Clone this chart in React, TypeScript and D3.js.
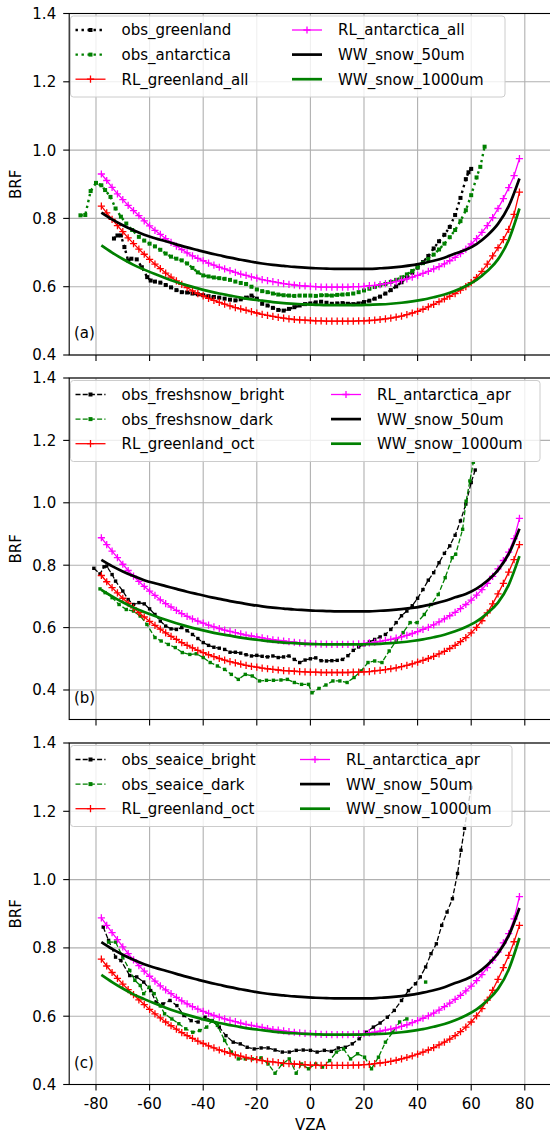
import React from 'react';
import * as d3 from 'd3';

const W = 550;
const H = 1134;
const FONT = '"DejaVu Sans", "Noto Sans", sans-serif';

// ---------------- data ----------------
const X_TICKS = [-80, -60, -40, -20, 0, 20, 40, 60, 80];
const Y_TICKS = [0.4, 0.6, 0.8, 1.0, 1.2, 1.4];
const PANEL_LABELS = ['(a)', '(b)', '(c)'];

const RL_VZA = [
  -78, -76, -74, -72, -70, -68, -66, -64, -62, -60, -58, -56, -54, -52, -50, -48, -46, -44, -42, -40,
  -38, -36, -34, -32, -30, -28, -26, -24, -22, -20, -18, -16, -14, -12, -10, -8, -6, -4, -2, 0,
  2, 4, 6, 8, 10, 12, 14, 16, 18, 20, 22, 24, 26, 28, 30, 32, 34, 36, 38, 40,
  42, 44, 46, 48, 50, 52, 54, 56, 58, 60, 62, 64, 66, 68, 70, 72, 74, 76, 78,
];
const RL_GREENLAND_ALL = [
  0.836, 0.816, 0.797, 0.779, 0.761, 0.743, 0.726, 0.710, 0.695, 0.680, 0.666, 0.653, 0.640, 0.628, 0.617, 0.607, 0.597, 0.588, 0.580, 0.573,
  0.566, 0.560, 0.554, 0.549, 0.544, 0.539, 0.535, 0.531, 0.527, 0.523, 0.519, 0.516, 0.513, 0.510, 0.508, 0.506, 0.504, 0.503, 0.502, 0.501,
  0.500, 0.500, 0.499, 0.499, 0.499, 0.499, 0.499, 0.499, 0.500, 0.500, 0.501, 0.502, 0.504, 0.506, 0.508, 0.511, 0.514, 0.518, 0.523, 0.528,
  0.534, 0.541, 0.548, 0.556, 0.564, 0.572, 0.580, 0.590, 0.600, 0.612, 0.627, 0.645, 0.666, 0.690, 0.714, 0.738, 0.768, 0.812, 0.877,
];
const RL_ANTARCTICA_ALL = [
  0.930, 0.911, 0.891, 0.872, 0.855, 0.838, 0.823, 0.808, 0.793, 0.778, 0.765, 0.753, 0.741, 0.730, 0.719, 0.709, 0.699, 0.690, 0.683, 0.676,
  0.669, 0.663, 0.657, 0.652, 0.647, 0.642, 0.637, 0.633, 0.629, 0.625, 0.621, 0.618, 0.615, 0.612, 0.609, 0.607, 0.605, 0.603, 0.602, 0.601,
  0.600, 0.599, 0.599, 0.599, 0.599, 0.599, 0.599, 0.600, 0.600, 0.601, 0.603, 0.604, 0.606, 0.609, 0.612, 0.615, 0.619, 0.623, 0.628, 0.633,
  0.639, 0.645, 0.652, 0.659, 0.667, 0.676, 0.686, 0.697, 0.710, 0.725, 0.741, 0.759, 0.779, 0.802, 0.829, 0.858, 0.890, 0.925, 0.975,
];
const RL_GREENLAND_OCT = [
  0.767, 0.747, 0.728, 0.711, 0.694, 0.678, 0.663, 0.648, 0.634, 0.620, 0.607, 0.595, 0.583, 0.572, 0.562, 0.552, 0.543, 0.535, 0.527, 0.520,
  0.513, 0.507, 0.501, 0.496, 0.491, 0.487, 0.483, 0.479, 0.476, 0.473, 0.470, 0.468, 0.466, 0.464, 0.462, 0.461, 0.460, 0.459, 0.458, 0.457,
  0.457, 0.456, 0.456, 0.456, 0.456, 0.456, 0.456, 0.457, 0.457, 0.458, 0.459, 0.461, 0.463, 0.465, 0.468, 0.471, 0.475, 0.479, 0.484, 0.489,
  0.495, 0.501, 0.508, 0.516, 0.524, 0.533, 0.543, 0.555, 0.568, 0.583, 0.601, 0.622, 0.647, 0.676, 0.708, 0.742, 0.778, 0.818, 0.866,
];
const RL_ANTARCTICA_APR = [
  0.888, 0.866, 0.845, 0.824, 0.803, 0.783, 0.765, 0.748, 0.732, 0.717, 0.703, 0.689, 0.677, 0.666, 0.655, 0.645, 0.636, 0.628, 0.621, 0.614,
  0.608, 0.602, 0.597, 0.592, 0.588, 0.584, 0.580, 0.576, 0.573, 0.570, 0.567, 0.564, 0.561, 0.559, 0.557, 0.555, 0.553, 0.551, 0.550, 0.549,
  0.548, 0.547, 0.547, 0.546, 0.546, 0.546, 0.546, 0.547, 0.548, 0.549, 0.551, 0.553, 0.556, 0.559, 0.562, 0.566, 0.570, 0.575, 0.581, 0.587,
  0.594, 0.601, 0.609, 0.618, 0.628, 0.638, 0.649, 0.661, 0.674, 0.688, 0.704, 0.722, 0.742, 0.764, 0.788, 0.815, 0.842, 0.885, 0.950,
];

const WW_VZA = [
  -78, -74, -70, -66, -62, -58, -54, -50, -46, -42, -38, -34, -30, -26, -22, -18, -14, -10, -6, -2,
  2, 6, 10, 14, 18, 22, 26, 30, 34, 38, 42, 46, 50, 54, 58, 62, 66, 70, 74, 78,
];
const WW_SNOW_50UM = [
  0.817, 0.797, 0.780, 0.765, 0.752, 0.742, 0.733, 0.724, 0.715, 0.707, 0.699, 0.692, 0.685, 0.679, 0.673, 0.668, 0.664, 0.661, 0.658, 0.656,
  0.654, 0.653, 0.652, 0.652, 0.652, 0.652, 0.654, 0.656, 0.659, 0.663, 0.669, 0.676, 0.685, 0.697, 0.708, 0.725, 0.750, 0.784, 0.836, 0.917,
];
const WW_SNOW_1000UM = [
  0.721, 0.700, 0.681, 0.664, 0.650, 0.637, 0.625, 0.614, 0.604, 0.595, 0.587, 0.580, 0.574, 0.568, 0.563, 0.559, 0.555, 0.552, 0.550, 0.548,
  0.547, 0.546, 0.546, 0.546, 0.546, 0.547, 0.548, 0.550, 0.553, 0.557, 0.562, 0.569, 0.577, 0.588, 0.602, 0.620, 0.646, 0.680, 0.737, 0.829,
];

type Pt = [number, number] | null;

const OBS_GREENLAND: Pt[] = [
  [-73.3, 0.741], [-72, 0.75], [-70.7, 0.75], [-69.4, 0.716], [-68, 0.677], [-66.8, 0.682], [-64.8, 0.68], [-62.9, 0.657],
  [-60.9, 0.628], [-59.6, 0.618], [-58, 0.615], [-56, 0.612], [-54, 0.605], [-52, 0.598], [-50, 0.59], [-48, 0.584],
  [-46, 0.583], [-44, 0.58], [-42, 0.578], [-40, 0.575], [-38, 0.572], [-36, 0.57], [-34, 0.568], [-32, 0.565],
  [-30, 0.562], [-28, 0.56], [-26, 0.563], [-24, 0.568], [-22, 0.574], [-20, 0.565], [-18, 0.55], [-16, 0.545],
  [-14, 0.538], [-12, 0.532], [-10, 0.53], [-8, 0.535], [-6, 0.54], [-4, 0.545], [-2, 0.549], [0, 0.551],
  [2, 0.554], [4, 0.556], [6, 0.553], [8, 0.55], [10, 0.551], [12, 0.552], [14, 0.55], [16, 0.549],
  [18, 0.551], [20, 0.555], [22, 0.559], [24, 0.565], [26, 0.571], [28, 0.58], [30, 0.59], [32, 0.601],
  [34, 0.613], [36, 0.627], [38, 0.641], [40, 0.656], [42, 0.672], [44, 0.69], [46, 0.712], [48, 0.733],
  [50, 0.752], [52, 0.775], [54, 0.81], [56, 0.86], [58, 0.915], [59, 0.935], [60, 0.945],
];
const OBS_ANTARCTICA: Pt[] = [
  [-85.8, 0.809], [-84, 0.81], [-82, 0.88], [-80, 0.904], [-78, 0.897], [-76.6, 0.883], [-74.6, 0.863], [-72.7, 0.829],
  [-70.7, 0.805], [-68.7, 0.785], [-66.5, 0.766], [-64, 0.746], [-62, 0.735], [-60, 0.726], [-58, 0.718], [-56, 0.708],
  [-54, 0.697], [-52, 0.688], [-50, 0.682], [-48, 0.677], [-46, 0.668], [-44, 0.655], [-42, 0.642], [-40, 0.633],
  [-38, 0.63], [-36, 0.627], [-34, 0.625], [-32, 0.623], [-30, 0.62], [-28, 0.615], [-26, 0.611], [-24, 0.608],
  [-22, 0.6], [-20, 0.592], [-18, 0.587], [-16, 0.584], [-14, 0.58], [-12, 0.577], [-10, 0.575], [-8, 0.574],
  [-6, 0.573], [-4, 0.574], [-2, 0.574], [0, 0.574], [2, 0.573], [4, 0.575], [6, 0.575], [8, 0.574],
  [10, 0.576], [12, 0.577], [14, 0.578], [16, 0.58], [18, 0.584], [20, 0.589], [22, 0.594], [24, 0.599],
  [26, 0.604], [28, 0.608], [30, 0.614], [32, 0.62], [34, 0.627], [36, 0.636], [38, 0.646], [40, 0.657],
  [42, 0.669], [44, 0.681], [46, 0.694], [48, 0.709], [50, 0.726], [52, 0.745], [54, 0.766], [56, 0.792],
  [58, 0.824], [60, 0.868], [62, 0.92], [63.4, 0.951], [65, 1.01],
];
const OBS_FRESHSNOW_BRIGHT: Pt[] = [
  [-80.8, 0.79], [-78.5, 0.772], [-77, 0.795], [-76, 0.797], [-74, 0.77], [-72.7, 0.749], [-70, 0.717], [-68, 0.69],
  [-66, 0.674], [-64, 0.68], [-62, 0.676], [-60, 0.66], [-58, 0.642], [-56, 0.621], [-54, 0.605], [-52, 0.596],
  [-50, 0.594], [-48, 0.6], [-46, 0.59], [-44, 0.578], [-42, 0.565], [-40, 0.552], [-38, 0.543], [-36, 0.537],
  [-34, 0.534], [-32, 0.53], [-30, 0.521], [-28, 0.521], [-26, 0.518], [-24, 0.513], [-22, 0.509], [-20, 0.511],
  [-18, 0.508], [-16, 0.506], [-14, 0.509], [-12, 0.504], [-10, 0.506], [-8, 0.509], [-6, 0.498], [-4, 0.488],
  [-2, 0.496], [0, 0.5], [2, 0.503], [4, 0.494], [6, 0.493], [8, 0.494], [10, 0.495], [12, 0.498],
  [14, 0.51], [16, 0.527], [18, 0.538], [20, 0.545], [22, 0.554], [24, 0.562], [26, 0.57], [28, 0.578],
  [30, 0.594], [32, 0.616], [34, 0.638], [36, 0.653], [38, 0.67], [40, 0.694], [42, 0.722], [44, 0.752],
  [46, 0.776], [48, 0.808], [50, 0.838], [52, 0.862], [54, 0.896], [56, 0.942], [58, 0.996], [60, 1.065], [61.5, 1.105],
];
const OBS_FRESHSNOW_DARK: Pt[] = [
  [-78.5, 0.724], [-76.6, 0.712], [-74, 0.696], [-71.4, 0.674], [-68.7, 0.658], [-66, 0.653], [-63.5, 0.637], [-61, 0.61],
  [-58, 0.568], [-55.7, 0.557], [-53, 0.546], [-50.4, 0.536], [-47.8, 0.52], [-45, 0.514], [-42.6, 0.516], [-40, 0.504],
  [-37.4, 0.488], [-34.7, 0.477], [-32, 0.466], [-29.5, 0.45], [-26.9, 0.434], [-24.3, 0.45], [-21.7, 0.445], [-19, 0.429],
  [-16.4, 0.431], [-13.8, 0.431], [-11, 0.432], [-8.6, 0.434], [-6, 0.424], [-3.3, 0.418], [-0.7, 0.418], [0.6, 0.391],
  [3.2, 0.405], [5.8, 0.416], [8.4, 0.429], [11, 0.429], [13.7, 0.424], [16.3, 0.44], [18.9, 0.461], [21.5, 0.488],
  [24, 0.493], [26.7, 0.488], [29.4, 0.525], [32, 0.557], [34.6, 0.584], [37.2, 0.616], [39.8, 0.616], [42.5, 0.642],
  [45, 0.674], [47.7, 0.706], [50.3, 0.76], [52.9, 0.824], [54.2, 0.835], [56.8, 0.915], [58.1, 1.005], [59.5, 1.07], [60.8, 1.13],
];
const OBS_SEAICE_BRIGHT: Pt[] = [
  [-77.3, 0.861], [-75.3, 0.822], [-72.7, 0.773], [-70.7, 0.763], [-67.4, 0.719], [-64.8, 0.715], [-62.2, 0.7], [-59.6, 0.675],
  [-57.6, 0.641], [-55, 0.636], [-52.4, 0.646], [-49.8, 0.631], [-47.2, 0.602], [-44.5, 0.587], [-41.9, 0.583], [-39.3, 0.597],
  [-36.7, 0.587], [-34, 0.568], [-31.5, 0.543], [-28.8, 0.524], [-26.2, 0.519], [-23.6, 0.509], [-21, 0.504], [-18.4, 0.507],
  [-15.8, 0.507], [-13.2, 0.501], [-10.5, 0.495], [-7.9, 0.495], [-5.3, 0.5], [-2.7, 0.501], [0, 0.5], [2.5, 0.495],
  [5.2, 0.5], [7.8, 0.497], [10.4, 0.507], [13, 0.509], [15.6, 0.519], [18.2, 0.534], [20.9, 0.553], [23.5, 0.568],
  [26, 0.58], [28.7, 0.597], [31.3, 0.617], [34, 0.646], [36.6, 0.675], [39.2, 0.695], [41, 0.715], [43, 0.744],
  [45, 0.783], [47, 0.812], [49, 0.866], [51, 0.905], [53, 0.944], [54.9, 1.018], [56.2, 1.086], [57.5, 1.15], [58.7, 1.21], [60, 1.27],
];
const OBS_SEAICE_DARK: Pt[] = [
  [-75.3, 0.817], [-72.7, 0.817], [-70, 0.773], [-67.4, 0.734], [-65.5, 0.705], [-63.5, 0.69], [-62.2, 0.666], [-60.2, 0.685],
  [-58.3, 0.666], [-56, 0.63], [-54.4, 0.607], [-51.7, 0.592], [-49.1, 0.578], [-46.5, 0.563], [-43.9, 0.553], [-41.3, 0.558],
  [-38.7, 0.568], [-36.7, 0.587], [-34.7, 0.573], [-32, 0.529], [-29.5, 0.495], [-26.9, 0.475], [-24.3, 0.475], [-21.7, 0.475],
  [-18.4, 0.478], [-15.8, 0.46], [-13.2, 0.433], [-10.5, 0.46], [-7.9, 0.475], [-5.3, 0.433], [-3.3, 0.46], [-0.7, 0.446],
  [2, 0.46], [4.5, 0.451], [7.2, 0.47], [9.7, 0.495], [12.4, 0.504], [15, 0.475], [17.6, 0.49], [20.2, 0.48],
  [22.8, 0.446], [25.4, 0.48], [28, 0.524], [30.7, 0.553], [33.3, 0.583], [36, 0.592], null, [43, 0.7],
];

// ---------------- styles / layout ----------------
type Kind = 'obsDot' | 'obsDash' | 'rl' | 'ww';
interface Series { name: string; kind: Kind; color: string; pts: Pt[] }

const zip = (xs: number[], ys: number[]): Pt[] => xs.map((x, i) => [x, ys[i]] as [number, number]);

const BLACK = '#000000';
const GREEN = '#008000';
const RED = '#ff0000';
const MAGENTA = '#ff00ff';

const PANELS = [
  {
    top: 13.5, yDomain: [0.4, 1.4], legendW: 434.5, col2: 292,
    series: [
      { name: 'obs_greenland', kind: 'obsDot', color: BLACK, pts: OBS_GREENLAND },
      { name: 'obs_antarctica', kind: 'obsDot', color: GREEN, pts: OBS_ANTARCTICA },
      { name: 'RL_greenland_all', kind: 'rl', color: RED, pts: zip(RL_VZA, RL_GREENLAND_ALL) },
      { name: 'RL_antarctica_all', kind: 'rl', color: MAGENTA, pts: zip(RL_VZA, RL_ANTARCTICA_ALL) },
      { name: 'WW_snow_50um', kind: 'ww', color: BLACK, pts: zip(WW_VZA, WW_SNOW_50UM) },
      { name: 'WW_snow_1000um', kind: 'ww', color: GREEN, pts: zip(WW_VZA, WW_SNOW_1000UM) },
    ] as Series[],
  },
  {
    top: 378, yDomain: [0.3054, 1.4], legendW: 469.5, col2: 331,
    series: [
      { name: 'obs_freshsnow_bright', kind: 'obsDash', color: BLACK, pts: OBS_FRESHSNOW_BRIGHT },
      { name: 'obs_freshsnow_dark', kind: 'obsDash', color: GREEN, pts: OBS_FRESHSNOW_DARK },
      { name: 'RL_greenland_oct', kind: 'rl', color: RED, pts: zip(RL_VZA, RL_GREENLAND_OCT) },
      { name: 'RL_antarctica_apr', kind: 'rl', color: MAGENTA, pts: zip(RL_VZA, RL_ANTARCTICA_APR) },
      { name: 'WW_snow_50um', kind: 'ww', color: BLACK, pts: zip(WW_VZA, WW_SNOW_50UM) },
      { name: 'WW_snow_1000um', kind: 'ww', color: GREEN, pts: zip(WW_VZA, WW_SNOW_1000UM) },
    ] as Series[],
  },
  {
    top: 743, yDomain: [0.4, 1.4], legendW: 441.5, col2: 300,
    series: [
      { name: 'obs_seaice_bright', kind: 'obsDash', color: BLACK, pts: OBS_SEAICE_BRIGHT },
      { name: 'obs_seaice_dark', kind: 'obsDash', color: GREEN, pts: OBS_SEAICE_DARK },
      { name: 'RL_greenland_oct', kind: 'rl', color: RED, pts: zip(RL_VZA, RL_GREENLAND_OCT) },
      { name: 'RL_antarctica_apr', kind: 'rl', color: MAGENTA, pts: zip(RL_VZA, RL_ANTARCTICA_APR) },
      { name: 'WW_snow_50um', kind: 'ww', color: BLACK, pts: zip(WW_VZA, WW_SNOW_50UM) },
      { name: 'WW_snow_1000um', kind: 'ww', color: GREEN, pts: zip(WW_VZA, WW_SNOW_1000UM) },
    ] as Series[],
  },
];

const PANEL_H = 341.5;
const AX_LEFT = 69.2;
const AX_RIGHT = 551.6;
const FS = 15;

const x = d3.scaleLinear().domain([-90, 90]).range([AX_LEFT, AX_RIGHT]);

const plusPath = (px: number, py: number, r: number) => `M${px - r},${py}H${px + r}M${px},${py - r}V${py + r}`;

function Marks({ s, y }: { s: Series; y: d3.ScaleLinear<number, number> }) {
  const line = d3
    .line<Pt>()
    .defined((d) => d !== null)
    .x((d) => x((d as [number, number])[0]))
    .y((d) => y((d as [number, number])[1]));
  const valid = s.pts.filter((d) => d !== null) as [number, number][];
  if (s.kind === 'ww') {
    const smooth = line.curve(d3.curveMonotoneX);
    return <path d={smooth(s.pts) || ''} fill="none" stroke={s.color} strokeWidth={2.7} />;
  }
  if (s.kind === 'rl') {
    const mp = valid.map((d) => plusPath(x(d[0]), y(d[1]), 3.6)).join('');
    return (
      <g>
        <path d={line(s.pts) || ''} fill="none" stroke={s.color} strokeWidth={1.3} />
        <path d={mp} fill="none" stroke={s.color} strokeWidth={1.3} />
      </g>
    );
  }
  const dotted = s.kind === 'obsDot';
  return (
    <g>
      <path
        d={line(s.pts) || ''}
        fill="none"
        stroke={s.color}
        strokeWidth={dotted ? 2.4 : 1.3}
        strokeDasharray={dotted ? '2.4,3.6' : '5,2.2'}
      />
      {valid.map((d, i) => (
        <rect
          key={i}
          x={x(d[0]) - (dotted ? 2 : 1.7)}
          y={y(d[1]) - (dotted ? 2 : 1.7)}
          width={dotted ? 4 : 3.4}
          height={dotted ? 4 : 3.4}
          fill={s.color}
        />
      ))}
    </g>
  );
}

function LegendHandle({ s, x0, cy }: { s: Series; x0: number; cy: number }) {
  const x1 = x0 + 30;
  const xm = (x0 + x1) / 2;
  if (s.kind === 'ww') return <line x1={x0} x2={x1} y1={cy} y2={cy} stroke={s.color} strokeWidth={2.7} />;
  if (s.kind === 'rl')
    return (
      <g>
        <line x1={x0} x2={x1} y1={cy} y2={cy} stroke={s.color} strokeWidth={1.3} />
        <path d={plusPath(xm, cy, 3.6)} stroke={s.color} strokeWidth={1.3} />
      </g>
    );
  const dotted = s.kind === 'obsDot';
  return (
    <g>
      <line
        x1={x0}
        x2={x1}
        y1={cy}
        y2={cy}
        stroke={s.color}
        strokeWidth={dotted ? 2.4 : 1.3}
        strokeDasharray={dotted ? '2.4,3.6' : '5,2.2'}
      />
      <rect x={xm - 2} y={cy - 2} width={4} height={4} fill={s.color} />
    </g>
  );
}

function Panel({ p, idx }: { p: (typeof PANELS)[number]; idx: number }) {
  const top = p.top;
  const bottom = top + PANEL_H;
  const y = d3.scaleLinear().domain(p.yDomain).range([bottom, top]);
  const clipId = `clip-${idx}`;
  const isLast = idx === PANELS.length - 1;
  const legTop = top + 2.5;
  const legLeft = 70.5;
  const rowY = (r: number) => legTop + 14 + r * 24.6;
  return (
    <g>
      <defs>
        <clipPath id={clipId}>
          <rect x={AX_LEFT} y={top} width={AX_RIGHT - AX_LEFT} height={PANEL_H} />
        </clipPath>
      </defs>
      <g stroke="#b0b0b0" strokeWidth={1.1}>
        {X_TICKS.map((t) => (
          <line key={'gx' + t} x1={x(t)} x2={x(t)} y1={top} y2={bottom} />
        ))}
        {Y_TICKS.map((t) => (
          <line key={'gy' + t} x1={AX_LEFT} x2={AX_RIGHT} y1={y(t)} y2={y(t)} />
        ))}
      </g>
      <g clipPath={`url(#${clipId})`}>
        {p.series
          .filter((s) => s.kind === 'obsDot' || s.kind === 'obsDash')
          .map((s) => (
            <Marks key={s.name} s={s} y={y} />
          ))}
        {p.series
          .filter((s) => s.kind === 'rl')
          .map((s) => (
            <Marks key={s.name} s={s} y={y} />
          ))}
        {p.series
          .filter((s) => s.kind === 'ww')
          .map((s) => (
            <Marks key={s.name} s={s} y={y} />
          ))}
      </g>
      <rect x={AX_LEFT} y={top} width={AX_RIGHT - AX_LEFT} height={PANEL_H} fill="none" stroke="#000" strokeWidth={1.1} />
      {Y_TICKS.map((t) => (
        <g key={'yt' + t}>
          <line x1={AX_LEFT - 6} x2={AX_LEFT} y1={y(t)} y2={y(t)} stroke="#000" strokeWidth={1.1} />
          <text x={AX_LEFT - 13} y={y(t)} dy="0.36em" textAnchor="end" fontFamily={FONT} fontSize={FS} fill="#000">
            {d3.format('.1f')(t)}
          </text>
        </g>
      ))}
      {X_TICKS.map((t) => (
        <g key={'xt' + t}>
          <line x1={x(t)} x2={x(t)} y1={bottom} y2={bottom + 6} stroke="#000" strokeWidth={1.1} />
          {isLast && (
            <text x={x(t)} y={bottom + 24} textAnchor="middle" fontFamily={FONT} fontSize={FS} fill="#000">
              {String(t)}
            </text>
          )}
        </g>
      ))}
      <text
        transform={`translate(21,${(top + bottom) / 2}) rotate(-90)`}
        textAnchor="middle"
        fontFamily={FONT}
        fontSize={FS}
        fill="#000"
      >
        BRF
      </text>
      <text x={74} y={bottom - 17} fontFamily={FONT} fontSize={FS} fill="#000">
        {PANEL_LABELS[idx]}
      </text>
      <rect
        x={legLeft}
        y={legTop}
        width={p.legendW}
        height={81}
        rx={3}
        fill="#ffffff"
        fillOpacity={0.8}
        stroke="#cccccc"
        strokeWidth={1}
      />
      {p.series.map((s, i) => {
        const col = i < 3 ? 0 : 1;
        const row = i % 3;
        const x0 = col === 0 ? 75.5 : p.col2;
        const cy = rowY(row);
        return (
          <g key={'lg' + s.name}>
            <LegendHandle s={s} x0={x0} cy={cy} />
            <text x={x0 + 46} y={cy} dy="0.36em" fontFamily={FONT} fontSize={FS} fill="#000">
              {s.name}
            </text>
          </g>
        );
      })}
    </g>
  );
}

export default function App() {
  return (
    <svg
      width={W}
      height={H}
      viewBox={`0 0 ${W} ${H}`}
      style={{ position: 'absolute', left: 0, top: 0, display: 'block', background: '#fff' }}
    >
      <rect x={0} y={0} width={W} height={H} fill="#fff" />
      {PANELS.map((p, i) => (
        <Panel key={i} p={p} idx={i} />
      ))}
      <text x={x(0)} y={1130} textAnchor="middle" fontFamily={FONT} fontSize={FS} fill="#000">
        VZA
      </text>
    </svg>
  );
}
